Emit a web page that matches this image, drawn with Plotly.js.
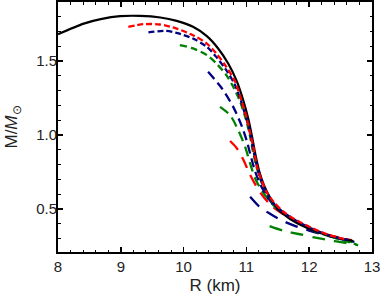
<!DOCTYPE html>
<html>
<head>
<meta charset="utf-8">
<script src="https://cdn.plot.ly/plotly-3.0.1.min.js"></script>
<style>html,body{margin:0;padding:0;background:#fff;}#chart{width:382px;height:301px;}</style>
</head>
<body>
<div id="chart"></div>
<script>
// Black solid curve
var blackR = [8.0, 8.41, 8.68, 8.99, 9.31, 9.63, 9.89, 10.15, 10.37, 10.55, 10.71, 10.84, 10.95, 11.03, 11.09, 11.14, 11.2, 11.28, 11.37, 11.5, 11.69, 11.96, 12.27, 12.5, 12.7];
var blackM = [1.682, 1.754, 1.784, 1.804, 1.806, 1.795, 1.772, 1.732, 1.669, 1.586, 1.484, 1.372, 1.236, 1.11, 0.989, 0.876, 0.763, 0.662, 0.583, 0.502, 0.435, 0.374, 0.327, 0.302, 0.284];
// Red curves
var red1R = [9.12, 9.36, 9.62, 9.89, 10.15, 10.37, 10.52, 10.68, 10.82, 10.92, 11.0, 11.06, 11.12, 11.17, 11.24, 11.32, 11.43, 11.59, 11.79, 12.06, 12.32, 12.59];
var red1M = [1.732, 1.75, 1.748, 1.72, 1.675, 1.619, 1.552, 1.462, 1.361, 1.236, 1.124, 1.011, 0.899, 0.786, 0.696, 0.617, 0.55, 0.482, 0.426, 0.369, 0.324, 0.295];
var red2R = [10.74, 10.85, 10.95, 11.05, 11.15, 11.25, 11.37, 11.5, 11.7, 11.95, 12.25, 12.5, 12.68];
var red2M = [0.96, 0.91, 0.835, 0.74, 0.66, 0.595, 0.535, 0.49, 0.435, 0.38, 0.333, 0.305, 0.29];
// Blue curves
var blue1R = [9.44, 9.71, 9.89, 10.15, 10.37, 10.52, 10.68, 10.82, 10.91, 10.99, 11.06, 11.11, 11.17, 11.24, 11.32, 11.44, 11.61, 11.82, 12.09, 12.35, 12.62];
var blue1M = [1.694, 1.705, 1.691, 1.653, 1.597, 1.529, 1.439, 1.338, 1.236, 1.124, 1.011, 0.899, 0.786, 0.685, 0.606, 0.534, 0.471, 0.414, 0.358, 0.318, 0.291];
var blue2R = [10.39, 10.6, 10.79, 10.92, 11.01, 11.08, 11.15, 11.24, 11.35, 11.48, 11.67, 11.9, 12.17, 12.43, 12.62];
var blue2M = [1.428, 1.322, 1.191, 1.068, 0.955, 0.842, 0.741, 0.651, 0.572, 0.505, 0.448, 0.392, 0.34, 0.305, 0.285];
var blue3R = [11.06, 11.21, 11.37, 11.53, 11.75, 12.0, 12.25, 12.5, 12.72];
var blue3M = [0.583, 0.515, 0.47, 0.43, 0.39, 0.355, 0.325, 0.298, 0.278];
// Green curves
var green1R = [9.94, 10.15, 10.37, 10.52, 10.68, 10.79, 10.9, 10.98, 11.05, 11.1, 11.16, 11.24, 11.33, 11.45, 11.64, 11.85, 12.11, 12.38, 12.75];
var green1M = [1.608, 1.586, 1.541, 1.485, 1.406, 1.327, 1.227, 1.124, 1.011, 0.899, 0.786, 0.685, 0.602, 0.527, 0.46, 0.403, 0.347, 0.309, 0.262];
var green2R = [10.58, 10.74, 10.87, 10.98, 11.06, 11.14, 11.24, 11.36, 11.5, 11.69, 11.9, 12.17, 12.43, 12.7];
var green2M = [1.191, 1.135, 1.034, 0.921, 0.808, 0.707, 0.628, 0.561, 0.498, 0.444, 0.39, 0.34, 0.304, 0.275];
var green3R = [11.37, 11.58, 11.85, 12.1, 12.4, 12.78];
var green3M = [0.385, 0.355, 0.33, 0.307, 0.283, 0.257];

var xTickVals = [8, 9, 10, 11, 12, 13];
var yTickVals = [0.5, 1.0, 1.5];
var yTickText = ['0.5', '1.0', '1.5'];

var RED = 'rgb(255,0,0)', BLUE = 'rgb(0,0,128)', GREEN = 'rgb(0,128,0)';
function tr(x, y, color, dash, w) {
  return {x: x, y: y, type: 'scatter', mode: 'lines', hoverinfo: 'skip',
    line: {color: color, width: w || 2.3, dash: dash, shape: 'spline', smoothing: 0.8}};
}
var data = [
  tr(green3R, green3M, GREEN, '13px,9px'),
  tr(blue3R, blue3M, BLUE, '13px,9px'),
  tr(red2R, red2M, RED, '12px,8px'),
  tr(green2R, green2M, GREEN, '10px,6px'),
  tr(blue2R, blue2M, BLUE, '9px,5px'),
  tr(green1R, green1M, GREEN, '7px,4px'),
  tr(blackR, blackM, 'black', 'solid', 2.2),
  tr(blue1R, blue1M, BLUE, '6px,3px'),
  tr(red1R, red1M, RED, '6px,3px')
];
var fontFam = '"Liberation Sans", Arial, sans-serif';
var TXT = '#222';
var layout = {
  width: 382, height: 301,
  margin: {l: 58, r: 10, t: 2, b: 49},
  paper_bgcolor: 'white', plot_bgcolor: 'white',
  showlegend: false,
  font: {family: fontFam, size: 15, color: TXT},
  xaxis: {
    range: [8, 13], tickvals: xTickVals, ticktext: xTickVals.map(String),
    showgrid: false, zeroline: false,
    showline: true, linecolor: 'black', linewidth: 2, mirror: 'allticks',
    ticks: 'inside', ticklen: 5, tickwidth: 1.5, tickcolor: 'black',
    minor: {dtick: 0.2, tick0: 8, ticks: 'inside', ticklen: 2.5, tickwidth: 1, tickcolor: 'black', showgrid: false},
    tickfont: {family: fontFam, size: 15, color: TXT},
    title: {text: 'R (km)', font: {family: fontFam, size: 17, color: TXT}, standoff: 5}
  },
  yaxis: {
    range: [0.21, 1.9], tickvals: yTickVals, ticktext: yTickText,
    showgrid: false, zeroline: false,
    showline: true, linecolor: 'black', linewidth: 2, mirror: 'allticks',
    ticks: 'inside', ticklen: 5, tickwidth: 1.5, tickcolor: 'black',
    minor: {dtick: 0.1, tick0: 0.2, ticks: 'inside', ticklen: 2.5, tickwidth: 1, tickcolor: 'black', showgrid: false},
    tickfont: {family: fontFam, size: 15, color: TXT},
    ticklabelstandoff: -4,
    title: {text: 'M/<i>M</i><sub>⊙</sub>', font: {family: fontFam, size: 17, color: TXT}, standoff: 14}
  }
};
Plotly.newPlot('chart', data, layout, {displayModeBar: false, staticPlot: true});
</script>
</body>
</html>
